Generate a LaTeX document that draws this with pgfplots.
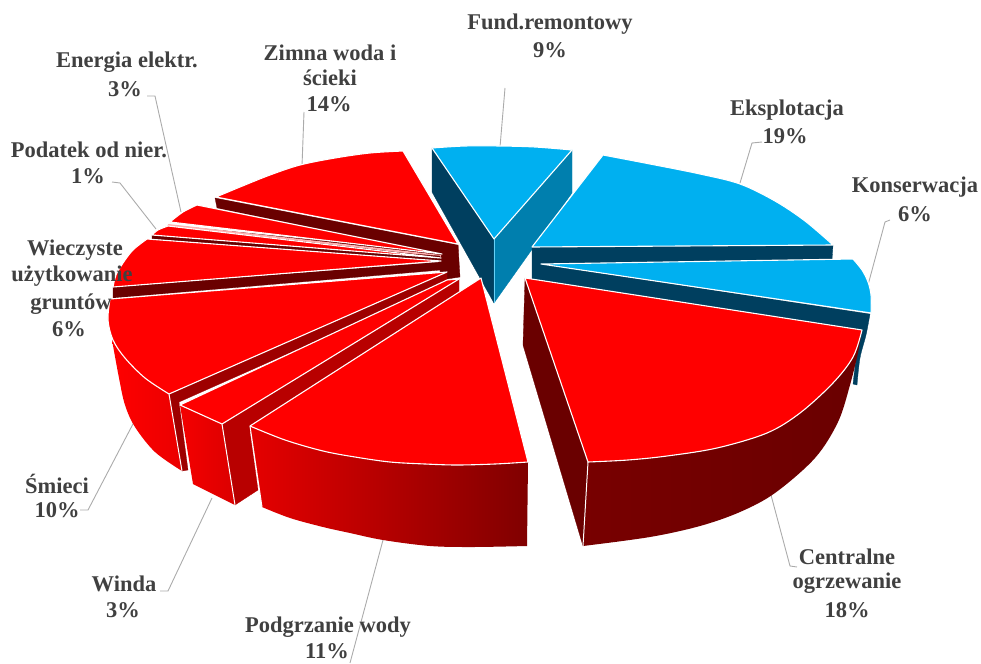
\documentclass[border=0pt]{standalone}
\usepackage{pgfplots}
\pgfplotsset{compat=1.18}
\usepackage{fontspec}
\setmainfont{Liberation Serif}
\definecolor{pieRed}{HTML}{FF0000}
\definecolor{pieBlue}{HTML}{00B0F0}
\definecolor{dkBlue}{HTML}{003F5F}
\definecolor{midBlue}{HTML}{007FAE}
\definecolor{dkRed}{HTML}{6A0000}
\definecolor{txt}{HTML}{404040}
\definecolor{lead}{HTML}{ABABAB}
\pgfplotsset{
  top/.style={fill=#1,draw=white,line width=1.1pt,line join=round},
  flat/.style={fill=#1,draw=#1,line width=0.3pt,line join=round},
  ledge/.style={draw=lead,line width=0.9pt,line join=round},
  sm/.style={smooth,tension=0.55},
}
\newcommand{\lab}[3]{\node[font=\bfseries\fontsize{22.5}{26}\selectfont,text=txt,align=center,inner sep=0pt] at (axis cs:#1,#2) {#3};}
\newcommand{\ac}[2]{(axis cs:#1,#2)}
\begin{document}
\begin{tikzpicture}
\begin{axis}[
  scale only axis,width=981pt,height=663pt,
  xmin=0,xmax=981,ymin=0,ymax=663,y dir=reverse,
  hide axis,clip=false,no markers]

% leaders
\addplot[ledge] coordinates {(505,88)(500,147)};
\addplot[ledge] coordinates {(762,142)(752,143)(740,183)};
\addplot[ledge] coordinates {(890,220)(885,222)(868,285)};
\addplot[ledge] coordinates {(771,495)(790,566)(797,567)};
\addplot[ledge] coordinates {(383,540)(350,663)};
\addplot[ledge] coordinates {(212,498)(168,591)(160,591)};
\addplot[ledge] coordinates {(134,422)(88,510)(80,510)};
\addplot[ledge] coordinates {(112,182)(120,183)(156,229)};
\addplot[ledge] coordinates {(147,96)(155,96)(181,212)};
\addplot[ledge] coordinates {(304,112)(302,166)};

% Fund.remontowy
\addplot[flat=dkBlue] coordinates {(432,148)(494,239)(494,303)(432,192)} -- cycle;
\addplot[flat=midBlue] coordinates {(572,150)(494,239)(494,303)(572,193)} -- cycle;
\addplot[draw=pieBlue!60!white,line width=0.8pt] coordinates {(494,239)(494,303)};
\addplot[top=pieBlue,sm] coordinates {(432,148)(465,146)(500,146)(535,147)(572,150)} -- \ac{494}{239} -- cycle;

% Eksplotacja
\addplot[flat=dkBlue] coordinates {(532,247)(833,245)(832,260)(545,270)(540,282)(532,279)} -- cycle;
\addplot[top=pieBlue,sm] coordinates {(603,155)(650,164)(700,174)(740,184)(775,201)(805,221)(833,245)} -- \ac{532}{247} -- cycle;

% Konserwacja
\addplot[flat=dkBlue,sm] coordinates {(870,314)(866,335)(860,358)(857,385)} -- \ac{853}{384} -- \ac{858}{340} -- \ac{541}{280} -- \ac{541}{264} -- cycle;
\addplot[top=pieBlue,sm] coordinates {(853,259)(862,270)(868,282)(871,295)(871,313)} -- \ac{541}{264} -- cycle;

% central block and thin back slices
\addplot[flat=dkRed] coordinates {(440,250)(458,245)(460,277)(447,279)(440,275)} -- cycle;

% Zimna woda
\addplot[flat=dkRed] coordinates {(215,198)(458,245)(458,262)(440,254)(217,208)} -- cycle;
\addplot[top=pieRed,sm] coordinates {(216,197)(240,187)(270,175)(300,165)(335,158)(370,153)(403,151)} -- \ac{458}{244} -- cycle;

% Energia
\addplot[flat=dkRed] coordinates {(168,225)(442,253)(442,258)(168,228)} -- cycle;
\addplot[top=pieRed,sm] coordinates {(197,205)(183,212)(170,222)} -- \ac{442}{254} -- cycle;
\addplot[draw=white!70!pieRed,line width=2pt] coordinates {(168,225)(441,256)};

% Podatek
\addplot[flat=dkRed] coordinates {(152,235)(440,256)(440,262)(152,239)} -- cycle;
\addplot[top=pieRed,sm] coordinates {(168,226)(158,230)(152,235)} -- \ac{441}{258} -- cycle;

% Wieczyste
\addplot[flat=dkRed] coordinates {(113,287)(441,262)(441,270)(113,298)} -- cycle;
\addplot[top=pieRed,sm] coordinates {(147,239)(133,250)(123,263)(116,275)(113,287)} -- \ac{441}{261} -- cycle;

% Smieci
\addplot[left color=pieRed,right color=pieRed!92!black,draw=none,sm] coordinates {(112,340)(119,378)(125,405)(135,427)(155,452)(182,471)} -- \ac{169}{394} -- cycle;
\addplot[flat=pieRed!62!black] coordinates {(169,394)(447,272)(447,283)(179,402)(188,470)(182,471)} -- cycle;
\addplot[draw=white,line width=1pt] coordinates {(169,394)(182,471)};
\addplot[top=pieRed,sm] coordinates {(110,299)(108,320)(113,340)(125,358)(145,378)(169,394)} -- \ac{447}{272} -- cycle;

% Winda
\addplot[left color=pieRed!96!black,right color=pieRed!86!black,draw=none] coordinates {(180,405)(222,424)(235,505)(193,484)} -- cycle;
\addplot[flat=pieRed!72!black] coordinates {(222,424)(459,279)(459,293)(250,432)(258,490)(235,505)} -- cycle;
\addplot[draw=white,line width=1pt] coordinates {(222,424)(235,505)};
\addplot[top=pieRed] coordinates {(180,405)(222,424)(459,279)(447,280)} -- cycle;

% Podgrzanie wody
\addplot[left color=pieRed!90!black,right color=pieRed!50!black,draw=none,sm] coordinates {(262,507)(290,518)(323,527)(350,533)(383,540)(430,546)(473,547)(527,546)} -- \ac{528}{462} -- \ac{250}{426} -- cycle;
\addplot[draw=white,line width=1pt] coordinates {(250,426)(262,507)};
\addplot[top=pieRed,sm] coordinates {(250,426)(285,440)(323,451)(355,457)(390,462)(425,464)(457,465)(495,464)(528,462)} -- \ac{481}{278} -- cycle;

% Centralne ogrzewanie
\addplot[flat=dkRed] coordinates {(525,278)(588,462)(583,546)(523,345)} -- cycle;
\addplot[left color=pieRed!47!black,right color=dkRed,draw=none,sm] coordinates {(583,546)(650,537)(700,526)(740,512)(775,493)(815,458)(838,422)(850,385)(858,353)} -- \ac{862}{330} -- \ac{588}{462} -- cycle;
\addplot[draw=white,line width=1pt] coordinates {(588,462)(583,546)};
\addplot[top=pieRed,sm] coordinates {(862,330)(853,357)(833,383)(800,413)(767,433)(717,448)(667,456)(628,460)(588,462)} -- \ac{525}{278} -- cycle;

% labels
\lab{550}{24}{Fund.remontowy}
\lab{550}{50}{9\%}
\lab{787}{110}{Eksplotacja}
\lab{785}{136}{19\%}
\lab{915}{187}{Konserwacja}
\lab{915}{214}{6\%}
\lab{847}{557}{Centralne}
\lab{847}{583}{ogrzewanie}
\lab{847}{610}{18\%}
\lab{328}{627}{Podgrzanie wody}
\lab{327}{651}{11\%}
\lab{124}{584}{Winda}
\lab{123}{610}{3\%}
\lab{57}{484}{Śmieci}
\lab{57}{510}{10\%}
\lab{75}{250}{Wieczyste}
\lab{72}{276}{użytkowanie}
\lab{71}{304}{gruntów}
\lab{69}{329}{6\%}
\lab{89}{150}{Podatek od nier.}
\lab{88}{176}{1\%}
\lab{127}{62}{Energia elektr.}
\lab{125}{89}{3\%}
\lab{330}{53}{Zimna woda i}
\lab{330}{78}{ścieki}
\lab{329}{104}{14\%}
\end{axis}
\pgfresetboundingbox
\path[use as bounding box] (current axis.south west) rectangle (current axis.north east);
\end{tikzpicture}
\end{document}
